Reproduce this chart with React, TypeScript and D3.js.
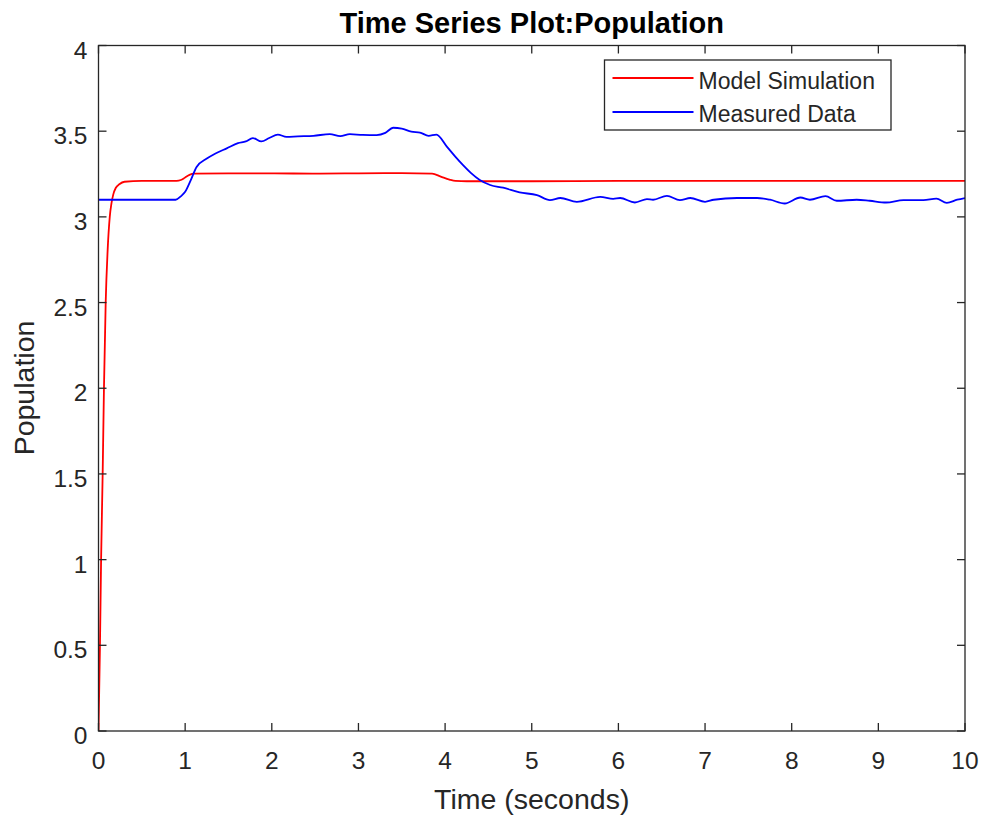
import React from "react";
import * as d3 from "d3";

const modelTime = [0, 0.017, 0.03, 0.048, 0.063, 0.083, 0.105, 0.13, 0.15, 0.17, 0.2, 0.24, 0.3, 0.5, 0.9, 0.95, 1.0, 1.05, 1.1, 1.5, 2.0, 2.5, 3.0, 3.5, 3.85, 3.95, 4.05, 4.12, 4.25, 5, 6, 7, 8, 9, 10];
const modelValues = [0, 0.5, 1.0, 1.5, 2.0, 2.5, 2.8, 3.0, 3.08, 3.13, 3.17, 3.19, 3.205, 3.21, 3.21, 3.215, 3.23, 3.245, 3.252, 3.254, 3.254, 3.252, 3.254, 3.255, 3.252, 3.235, 3.218, 3.21, 3.208, 3.208, 3.21, 3.21, 3.21, 3.21, 3.21];

const measuredTime = [0, 0.5, 0.89, 0.95, 1.0, 1.07, 1.13, 1.25, 1.35, 1.48, 1.61, 1.7, 1.78, 1.88, 1.97, 2.07, 2.17, 2.3, 2.48, 2.67, 2.79, 2.9, 3.05, 3.21, 3.31, 3.4, 3.5, 3.61, 3.71, 3.81, 3.9, 4.02, 4.12, 4.21, 4.3, 4.4, 4.52, 4.67, 4.86, 5.06, 5.21, 5.33, 5.52, 5.79, 5.94, 6.02, 6.19, 6.33, 6.4, 6.56, 6.71, 6.83, 7.0, 7.1, 7.37, 7.6, 7.75, 7.92, 8.1, 8.21, 8.39, 8.52, 8.75, 8.9, 9.09, 9.29, 9.52, 9.67, 9.79, 9.91, 10];
const measuredValues = [3.1, 3.1, 3.1, 3.12, 3.146, 3.22, 3.29, 3.34, 3.37, 3.4, 3.43, 3.44, 3.46, 3.44, 3.46, 3.48, 3.467, 3.47, 3.473, 3.483, 3.471, 3.483, 3.478, 3.477, 3.49, 3.52, 3.515, 3.497, 3.492, 3.473, 3.48, 3.41, 3.35, 3.3, 3.255, 3.215, 3.186, 3.17, 3.143, 3.127, 3.098, 3.11, 3.088, 3.117, 3.105, 3.11, 3.084, 3.104, 3.1, 3.123, 3.098, 3.11, 3.088, 3.1, 3.11, 3.11, 3.1, 3.078, 3.113, 3.1, 3.121, 3.094, 3.1, 3.094, 3.084, 3.098, 3.098, 3.107, 3.082, 3.1, 3.11];

const xTicks = [0, 1, 2, 3, 4, 5, 6, 7, 8, 9, 10];
const yTicks = [0, 0.5, 1, 1.5, 2, 2.5, 3, 3.5, 4];
const seriesNames = ["Model Simulation", "Measured Data"];
const seriesColors = ["#ff0000", "#0000ff"];

const W = 982;
const H = 817;
const left = 98.5;
const right = 965;
const top = 45.5;
const bottom = 731;
const axisColor = "#262626";
const font = "'Liberation Sans', Arial, Helvetica, sans-serif";

export default function App() {
  const x = d3.scaleLinear().domain([0, 10]).range([left, right]);
  const y = d3.scaleLinear().domain([0, 4]).range([bottom, top]);
  const line = d3
    .line<[number, number]>()
    .x((d) => x(d[0]))
    .y((d) => y(d[1]))
    .curve(d3.curveMonotoneX);
  const modelPts: [number, number][] = modelTime.map((t, i) => [t, modelValues[i]]);
  const measPts: [number, number][] = measuredTime.map((t, i) => [t, measuredValues[i]]);
  const tickLen = 8;
  const legX = 604.5;
  const legY = 60;
  const legW = 286.5;
  const legH = 70;
  const lineRows = [78, 112];
  const textRows = [88.5, 121.5];

  return (
    <svg
      width={W}
      height={H}
      style={{ position: "absolute", left: 0, top: 0, background: "#fff" }}
    >
      <rect x={0} y={0} width={W} height={H} fill="#fff" />
      <defs>
        <clipPath id="plotClip">
          <rect x={left} y={top} width={right - left} height={bottom - top} />
        </clipPath>
      </defs>
      <g clipPath="url(#plotClip)">
        <path d={line(modelPts) || ""} fill="none" stroke={seriesColors[0]} strokeWidth={1.8} />
        <path d={line(measPts) || ""} fill="none" stroke={seriesColors[1]} strokeWidth={1.8} />
      </g>
      <rect x={left} y={top} width={right - left} height={bottom - top} fill="none" stroke={axisColor} strokeWidth={1.3} />
      {xTicks.map((t) => (
        <g key={"x" + t}>
          <line x1={x(t)} x2={x(t)} y1={bottom} y2={bottom - tickLen} stroke={axisColor} strokeWidth={1.3} />
          <line x1={x(t)} x2={x(t)} y1={top} y2={top + tickLen} stroke={axisColor} strokeWidth={1.3} />
          <text x={x(t)} y={768.5} textAnchor="middle" fontFamily={font} fontSize={24.5} fill={axisColor}>
            {t}
          </text>
        </g>
      ))}
      {yTicks.map((t) => (
        <g key={"y" + t}>
          <line x1={left} x2={left + tickLen} y1={y(t)} y2={y(t)} stroke={axisColor} strokeWidth={1.3} />
          <line x1={right} x2={right - tickLen} y1={y(t)} y2={y(t)} stroke={axisColor} strokeWidth={1.3} />
          <text x={87.5} y={y(t) + 13} textAnchor="end" fontFamily={font} fontSize={24.5} fill={axisColor}>
            {t}
          </text>
        </g>
      ))}
      <text x={(left + right) / 2} y={32.5} textAnchor="middle" fontFamily={font} fontSize={29} fontWeight="bold" fill="#000">
        Time Series Plot:Population
      </text>
      <text x={(left + right) / 2} y={809} textAnchor="middle" fontFamily={font} fontSize={28.5} fill={axisColor}>
        Time (seconds)
      </text>
      <text
        transform={`translate(34, 388) rotate(-90)`}
        textAnchor="middle"
        fontFamily={font}
        fontSize={28.5}
        fill={axisColor}
      >
        Population
      </text>
      <rect x={legX} y={legY} width={legW} height={legH} fill="#fff" stroke={axisColor} strokeWidth={1.3} />
      {seriesNames.map((n, i) => (
        <g key={n}>
          <line x1={612.5} x2={693.5} y1={lineRows[i]} y2={lineRows[i]} stroke={seriesColors[i]} strokeWidth={1.8} />
          <text x={698.5} y={textRows[i]} fontFamily={font} fontSize={23} fill={axisColor}>
            {n}
          </text>
        </g>
      ))}
    </svg>
  );
}
